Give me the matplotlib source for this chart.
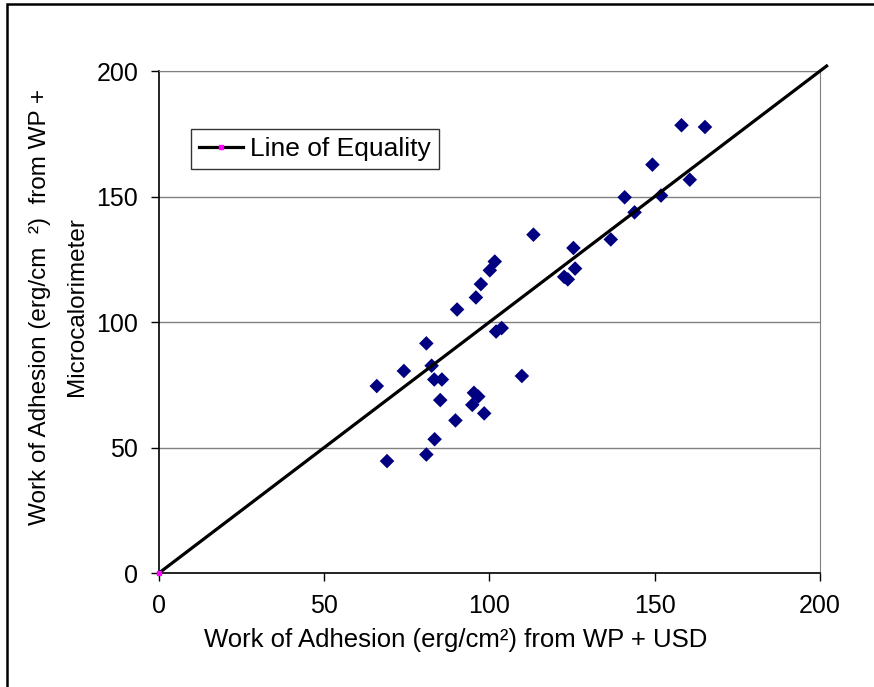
import matplotlib
matplotlib.use("Agg")
import matplotlib.pyplot as plt
from matplotlib.patches import Rectangle

plt.rcParams['font.family'] = ['Liberation Sans', 'DejaVu Sans']

# measured points (WP + USD vs WP + Microcalorimeter)
usd_x = [158.1, 165.2, 149.3, 160.6, 140.9, 151.9, 143.9, 113.3, 136.7, 125.4,
         125.9, 122.6, 123.7, 101.6, 100.1, 97.4, 95.9, 90.2, 102.0, 103.7,
         80.9, 82.5, 74.1, 83.3, 85.6, 65.9, 109.8, 95.3, 96.6, 85.1,
         94.8, 98.4, 89.7, 83.4, 80.9, 69.0]
micro_y = [178.4, 177.7, 162.7, 156.7, 149.7, 150.4, 143.7, 134.8, 132.9, 129.5,
           121.3, 118.0, 117.0, 124.1, 120.6, 115.1, 109.8, 105.0, 96.2, 97.6,
           91.5, 82.6, 80.5, 77.1, 77.1, 74.5, 78.5, 71.8, 70.3, 68.9,
           67.0, 63.6, 60.8, 53.3, 47.2, 44.6]

equality = [0, 202]
ticks = [0, 50, 100, 150, 200]

fig = plt.figure(figsize=(8.74, 6.87), dpi=100)
ax = fig.add_axes([0.1819, 0.1659, 0.7563, 0.7307])

ax.scatter(usd_x, micro_y, marker='D', s=55, color='#000080', edgecolors='none', zorder=3)
ax.plot(equality, equality, color='black', lw=2.3, marker='s', ms=2.5,
        mfc='#ff00ff', mec='#ff00ff', markevery=[0], clip_on=False, zorder=4,
        label='Line of Equality')

ax.set_xlim(0, 200)
ax.set_ylim(0, 200)
ax.set_xticks(ticks)
ax.set_yticks(ticks)
ax.yaxis.grid(True, color='#808080', lw=1)
ax.set_axisbelow(True)
ax.tick_params(direction='out', length=6, width=1, labelsize=18, colors='black')
ax.tick_params(axis='x', pad=9)
ax.tick_params(axis='y', pad=9)
for s in ['top', 'right']:
    ax.spines[s].set_color('#808080')
for s in ['left', 'bottom']:
    ax.spines[s].set_color('black')
    ax.spines[s].set_linewidth(1.2)

leg = ax.legend(loc='upper left', bbox_to_anchor=(0.048, 0.884), borderaxespad=0,
                fontsize=19, frameon=True, fancybox=False, handlelength=1.7,
                handletextpad=0.25, borderpad=0.3)
leg.get_frame().set_edgecolor('black')
leg.get_frame().set_linewidth(1)

fig.text(456 / 874, 1 - 640 / 687, 'Work of Adhesion (erg/cm²) from WP + USD',
         ha='center', va='center', fontsize=18.5)
fig.text(40 / 874, 1 - 307 / 687, 'Work of Adhesion (erg/cm  ²)  from WP +',
         ha='center', va='center', rotation=90, fontsize=17.5)
fig.text(77 / 874, 1 - 307 / 687, 'Microcalorimeter',
         ha='center', va='center', rotation=90, fontsize=17.5)

# outer chart frame
fig.patches.append(Rectangle((7 / 874, -0.1), 1.2, 1 - 4 / 687 + 0.1, transform=fig.transFigure,
                             fill=False, edgecolor='black', lw=1.8))

fig.savefig('out.png', dpi=100)
